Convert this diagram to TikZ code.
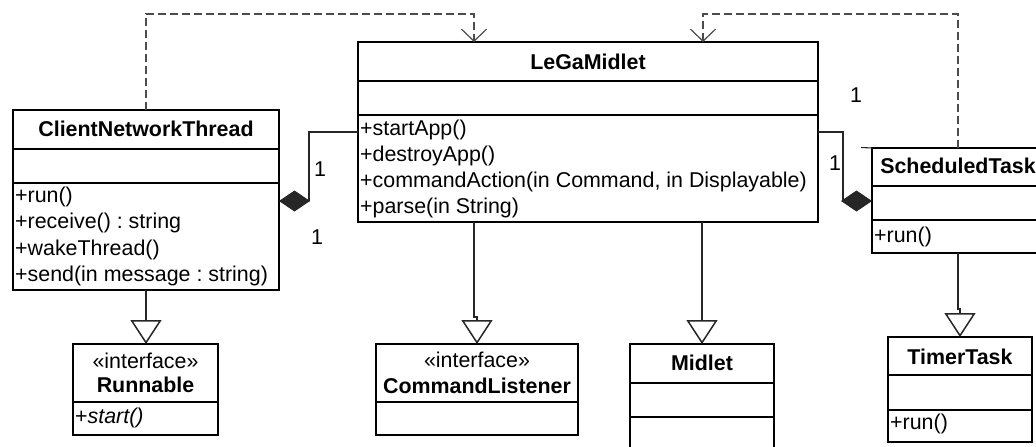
\documentclass[tikz,border=0pt]{standalone}
\usepackage{fontspec}
\setmainfont{Liberation Sans}
\usetikzlibrary{arrows.meta}
\frenchspacing
\begin{document}
\begin{tikzpicture}[x=1pt,y=-1pt,
  box/.style={draw=black, line width=1.6pt, inner sep=0pt, outer sep=0pt, anchor=north west},
  sepline/.style={draw=black, line width=1.6pt},
  ttl/.style={font=\fontsize{21.4}{25}\selectfont\bfseries, inner sep=0pt},
  txt/.style={font=\fontsize{21.4}{25}\selectfont, inner sep=0pt, anchor=west},
  ster/.style={font=\fontsize{21.4}{25}\selectfont, inner sep=0pt},
  conn/.style={draw=black!85, line width=1.1pt},
  dep/.style={draw=black!70, line width=1.3pt, dash pattern=on 8pt off 4pt, -{Straight Barb[length=12pt,width=25pt,line width=1.2pt]}},
  gen/.style={conn, -{Triangle[open,length=24pt,width=31pt,fill=white,line width=1.5pt]}},
  comp/.style={conn, {Diamond[length=31pt,width=21pt]}-}
]
\useasboundingbox (0,0) rectangle (1036,447);
\fill[white] (0,0) rectangle (1036,447);
\clip (0,0) rectangle (1036,447);

% ClientNetworkThread
\node[box, minimum width=266pt, minimum height=180pt] (cnt) at (13,110) {};
\draw[sepline] (cnt.west |- 0,149) -- (cnt.east |- 0,149);
\draw[sepline] (cnt.west |- 0,183) -- (cnt.east |- 0,183);
\node[ttl] (cntT) at (146,129) {ClientNetworkThread};
\node[txt] (cntm1) at (15,197) {+run()};
\node[txt] (cntm2) at (15,223) {+receive() : string};
\node[txt] (cntm3) at (15,250) {+wakeThread()};
\node[txt] (cntm4) at (15,276) {+send(in message : string)};

% LeGaMidlet
\node[box, minimum width=460pt, minimum height=180pt] (lega) at (358,42) {};
\draw[sepline] (lega.west |- 0,81) -- (lega.east |- 0,81);
\draw[sepline] (lega.west |- 0,115) -- (lega.east |- 0,115);
\node[ttl] (legaT) at (588,62) {LeGaMidlet};
\node[txt] (legam1) at (360,130) {+startApp()};
\node[txt] (legam2) at (360,156) {+destroyApp()};
\node[txt] (legam3) at (360,182) {+commandAction(in Command, in Displayable)};
\node[txt] (legam4) at (360,208) {+parse(in String)};

% ScheduledTask
\node[box, minimum width=172pt, minimum height=105pt] (st) at (872,148) {};
\draw[sepline] (st.west |- 0,186) -- (st.east |- 0,186);
\draw[sepline] (st.west |- 0,220) -- (st.east |- 0,220);
\node[ttl] (stT) at (958,166) {ScheduledTask};
\node[txt] (stm1) at (874,236.5) {+run()};
\draw[conn] (861,147.5) -- (st.north west);

% Runnable
\node[box, minimum width=145pt, minimum height=91pt] (run) at (73,344) {};
\draw[sepline] (run.west |- 0,402) -- (run.east |- 0,402);
\node[ster] (runS) at (145.5,361) {«interface»};
\node[ttl] (runT) at (145.5,385) {Runnable};
\node[txt] (runm1) at (75,418) {+\textit{start()}};

% CommandListener
\node[box, minimum width=202pt, minimum height=91pt] (cl) at (376,344) {};
\draw[sepline] (cl.west |- 0,402) -- (cl.east |- 0,402);
\node[ster] (clS) at (477,360) {«interface»};
\node[ttl] (clT) at (477,386) {CommandListener};

% Midlet
\node[box, minimum width=144pt, minimum height=130pt] (mid) at (630,344) {};
\draw[sepline] (mid.west |- 0,383) -- (mid.east |- 0,383);
\draw[sepline] (mid.west |- 0,417) -- (mid.east |- 0,417);
\node[ttl] (midT) at (702,363) {Midlet};

% TimerTask
\node[box, minimum width=144pt, minimum height=105pt] (tt) at (888,337) {};
\draw[sepline] (tt.west |- 0,375) -- (tt.east |- 0,375);
\draw[sepline] (tt.west |- 0,410) -- (tt.east |- 0,410);
\node[ttl] (ttT) at (960,357) {TimerTask};
\node[txt] (ttm1) at (890,424) {+run()};

% dependencies
\draw[dep] (cnt.north) -- (cnt.north |- 0,14) -| (lega.north -| 474,0);
\draw[dep] (st.north) -- (st.north |- 0,14) -| (lega.north -| 703,0);

% compositions
\draw[comp] (cnt.east |- 0,201) -- (309,201) -- (309,132) -- (lega.west |- 0,132);
\draw[comp] (st.west |- 0,201) -- (843,201) -- (843,132) -- (lega.east |- 0,132);
\node[ster] (m1) at (320,169) {1};
\node[ster] (m2) at (317,237) {1};
\node[ster] (m3) at (835,163) {1};
\node[ster] (m4) at (856,95) {1};

% generalizations
\draw[gen] (cnt.south) -- (cnt.south |- run.north);
\draw[gen] (lega.south -| 474,0) -- (474,317) -- (477,317) -- (cl.north);
\draw[gen] (lega.south -| mid.north) -- (mid.north);
\draw[gen] (st.south) -- (958,309) -- (960,309) -- (tt.north);
\end{tikzpicture}
\end{document}
